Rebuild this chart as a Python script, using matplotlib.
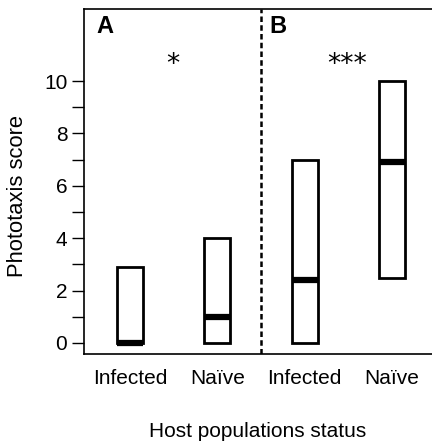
import numpy as np
import matplotlib
matplotlib.use('Agg')
import matplotlib.pyplot as plt

plt.rcParams['font.family'] = ['Liberation Sans', 'DejaVu Sans']

# box data (min, median, max) per group
positions = [1, 2, 3, 4]
tick_labels = ['Infected', 'Naïve', 'Infected', 'Naïve']
box_low = [0.0, 0.0, 0.0, 2.5]
box_high = [2.9, 4.0, 7.0, 10.0]
medians = [0.0, 1.0, 2.4, 6.9]

panel_labels = ['A', 'B']
panel_label_x = [0.71, 2.69]
signif = ['*', '***']
signif_x = [1.49, 3.48]

fig = plt.figure(figsize=(4.32, 4.44), dpi=100)
ax = fig.add_axes([84 / 432, 90 / 444, 348 / 432, 345 / 444])

w = 0.3
heights = [h - l for l, h in zip(box_low, box_high)]
ax.bar(positions, heights, bottom=box_low, width=w, fill=False,
       edgecolor='black', linewidth=2, zorder=3)
ax.hlines(medians, np.array(positions) - w / 2, np.array(positions) + w / 2,
          color='black', linewidth=4.5, zorder=4)

ax.axvline(2.5, color='black', linestyle=(0, (2.2, 1.3)), linewidth=1.8)

for lab, xx in zip(panel_labels, panel_label_x):
    ax.text(xx, 12.1, lab, fontsize=17, fontweight='bold', ha='center', va='center')
for s, xx in zip(signif, signif_x):
    ax.text(xx, 10.6, s, fontsize=19, ha='center', va='center',
            family=['DejaVu Sans'])

ax.set_xlim(0.474, 4.457)
ax.set_ylim(-0.42, 12.75)
ax.set_xticks(positions)
ax.set_xticklabels(tick_labels, fontsize=15)
ax.set_yticks([0, 2, 4, 6, 8, 10])
ax.set_yticks([1, 3, 5, 7, 9], minor=True)
ax.tick_params(axis='y', which='both', length=9, width=1, labelsize=15, pad=3)
ax.tick_params(axis='x', length=0, pad=11)
ax.spines['right'].set_visible(False)
for sp in ['left', 'top', 'bottom']:
    ax.spines[sp].set_linewidth(1.2)

ax.set_ylabel('Phototaxis score', fontsize=15.8)
ax.yaxis.set_label_coords(-0.162, 0.458)
ax.set_xlabel('Host populations status', fontsize=15, labelpad=24)

fig.savefig('out.png', dpi=100)
